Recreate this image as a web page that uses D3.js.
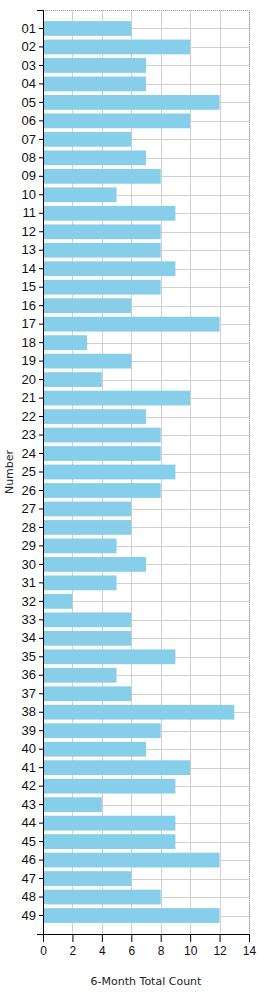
<!DOCTYPE html>
<html>
<head>
<meta charset="utf-8">
<script src="https://cdn.jsdelivr.net/npm/d3@7"></script>
<style>
  body { margin: 0; background: #fff; }
  svg { display: block; font-family: "DejaVu Sans", Verdana, sans-serif; }
  .grid line { stroke: #d0d0d0; stroke-width: 1; }
  .axis text { fill: #111; }
</style>
</head>
<body>
<svg id="chart" width="260" height="1000"></svg>
<script>
// --- Data -------------------------------------------------------------
const numbers = d3.range(1, 50).map(n => String(n).padStart(2, '0'));
const counts = [
  6, 10, 7, 7, 12, 10, 6, 7, 8, 5,
  9, 8, 8, 9, 8, 6, 12, 3, 6, 4,
  10, 7, 8, 8, 9, 8, 6, 6, 5, 7,
  5, 2, 6, 6, 9, 5, 6, 13, 8, 7,
  10, 9, 4, 9, 9, 12, 6, 8, 12
];
const xTicks = [0, 2, 4, 6, 8, 10, 12, 14];

const data = numbers.map((n, i) => ({ number: n, count: counts[i] }));

// --- Layout -----------------------------------------------------------
const plotLeft = 43, plotRight = 249, plotTop = 10, plotBottom = 934;

const svg = d3.select('#chart');

const x = d3.scaleLinear().domain([0, 14]).range([plotLeft, plotRight]);

const y = d3.scaleBand()
  .domain(numbers)
  .range([plotTop, plotBottom])
  .paddingInner(0.2)
  .paddingOuter(0.6);

const yCenter = d => y(d) + y.bandwidth() / 2;

// --- Grid -------------------------------------------------------------
const grid = svg.append('g').attr('class', 'grid');

grid.selectAll('line.v')
  .data(xTicks.slice(1))
  .join('line')
  .attr('class', 'v')
  .attr('x1', d => Math.round(x(d)) + 0.5)
  .attr('x2', d => Math.round(x(d)) + 0.5)
  .attr('y1', plotTop)
  .attr('y2', plotBottom);

grid.selectAll('line.h')
  .data(numbers)
  .join('line')
  .attr('class', 'h')
  .attr('x1', plotLeft)
  .attr('x2', plotRight)
  .attr('y1', d => Math.round(yCenter(d)) + 0.5)
  .attr('y2', d => Math.round(yCenter(d)) + 0.5);

// dotted frame on top and right
svg.append('path')
  .attr('d', `M${plotLeft},${plotTop + 0.5}H${plotRight + 0.5}V${plotBottom}`)
  .attr('fill', 'none')
  .attr('stroke', '#999')
  .attr('stroke-dasharray', '1,1');

// --- Bars -------------------------------------------------------------
svg.append('g')
  .selectAll('rect')
  .data(data)
  .join('rect')
  .attr('x', x(0))
  .attr('y', d => y(d.number))
  .attr('width', d => x(d.count) - x(0))
  .attr('height', y.bandwidth())
  .attr('fill', '#87ceeb');

// --- Axes -------------------------------------------------------------
svg.append('g')
  .attr('class', 'axis')
  .attr('transform', `translate(${plotLeft},0)`)
  .call(d3.axisLeft(y).tickSize(4).tickSizeOuter(6).tickPadding(3))
  .call(g => g.selectAll('text').attr('font-size', 13))
  .call(g => g.selectAll('path, line').attr('stroke', '#000'));

svg.append('g')
  .attr('class', 'axis')
  .attr('transform', `translate(0,${plotBottom})`)
  .call(d3.axisBottom(x).tickValues(xTicks).tickSize(8).tickSizeOuter(8).tickPadding(4))
  .call(g => g.selectAll('text').attr('font-size', 12))
  .call(g => g.selectAll('path, line').attr('stroke', '#000'));

// --- Titles -----------------------------------------------------------
svg.append('text')
  .attr('x', (plotLeft + plotRight) / 2)
  .attr('y', 985)
  .attr('text-anchor', 'middle')
  .attr('font-size', 11)
  .attr('fill', '#222')
  .text('6-Month Total Count');

svg.append('text')
  .attr('transform', `translate(13,${(plotTop + plotBottom) / 2}) rotate(-90)`)
  .attr('text-anchor', 'middle')
  .attr('font-size', 11)
  .attr('fill', '#222')
  .text('Number');
</script>
</body>
</html>
